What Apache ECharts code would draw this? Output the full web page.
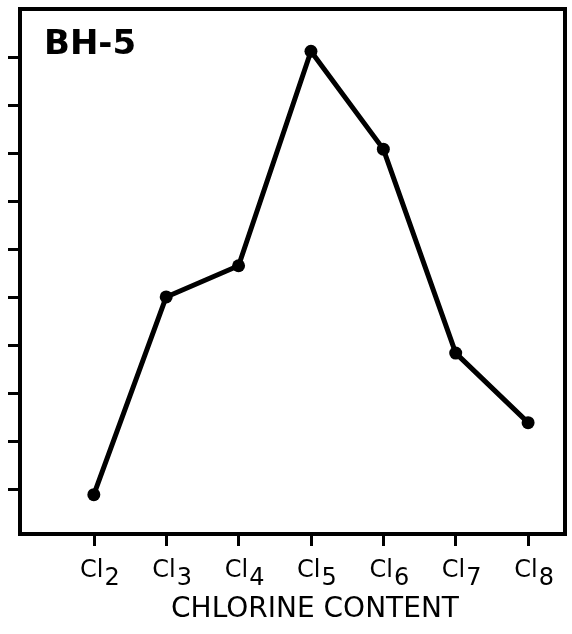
<!DOCTYPE html>
<html><head><meta charset="utf-8">
<script src="https://cdn.jsdelivr.net/npm/echarts@6/dist/echarts.min.js"></script>
<style>html,body{margin:0;padding:0;background:#fff}#c{width:572px;height:634px}</style>
</head><body><div id="c"></div>
<script>
const categories = ['2','3','4','5','6','7','8'];   // Cl subscripts
const positions = [2,3,4,5,6,7,8];
const values = [0.88, 5.0, 5.65, 10.12, 8.08, 3.83, 2.38];
const yTicks = [1,2,3,4,5,6,7,8,9,10];
const panelLabel = 'BH-5';
const xTitle = 'CHLORINE CONTENT';

const chart = echarts.init(document.getElementById('c'));
chart.setOption({
  animation:false,
  backgroundColor:'#fff',
  grid:{left:20,right:7,top:9,bottom:100,show:true,borderColor:'#000',borderWidth:4,backgroundColor:'transparent'},
  title:[
    {text:panelLabel,left:39,top:23,textStyle:{fontFamily:'DejaVu Sans',fontSize:34,fontWeight:'bold',color:'#000'}},
    {text:xTitle,left:310,textAlign:'center',top:591,textStyle:{fontFamily:'DejaVu Sans',fontSize:28,fontWeight:'normal',color:'#000'}}
  ],
  xAxis:{type:'value',min:0.98,max:8.51,
    axisLine:{lineStyle:{color:'#000',width:4}},
    axisTick:{show:true,customValues:positions,length:12,lineStyle:{color:'#000',width:3}},
    axisLabel:{customValues:positions,margin:25,
      formatter:function(v){const i=positions.indexOf(v);return i<0?'':'{a|Cl}{b|'+categories[i]+'}';},
      rich:{a:{fontFamily:'DejaVu Sans',fontSize:24,color:'#000',verticalAlign:'top',padding:[0,0,0,12]},
            b:{fontFamily:'DejaVu Sans',fontSize:24,color:'#000',verticalAlign:'bottom',padding:[8,0,0,1]}}},
    splitLine:{show:false}
  },
  yAxis:{type:'value',min:0.06,max:11.0,
    axisLine:{show:true,lineStyle:{color:'#000',width:4}},
    axisTick:{show:true,customValues:yTicks,length:12,lineStyle:{color:'#000',width:3}},
    axisLabel:{show:false},splitLine:{show:false}},
  series:[{type:'line',data:positions.map((p,i)=>[p,values[i]]),
    symbol:'circle',symbolSize:13,
    lineStyle:{color:'#000',width:5},itemStyle:{color:'#000'}}]
});
</script></body></html>
